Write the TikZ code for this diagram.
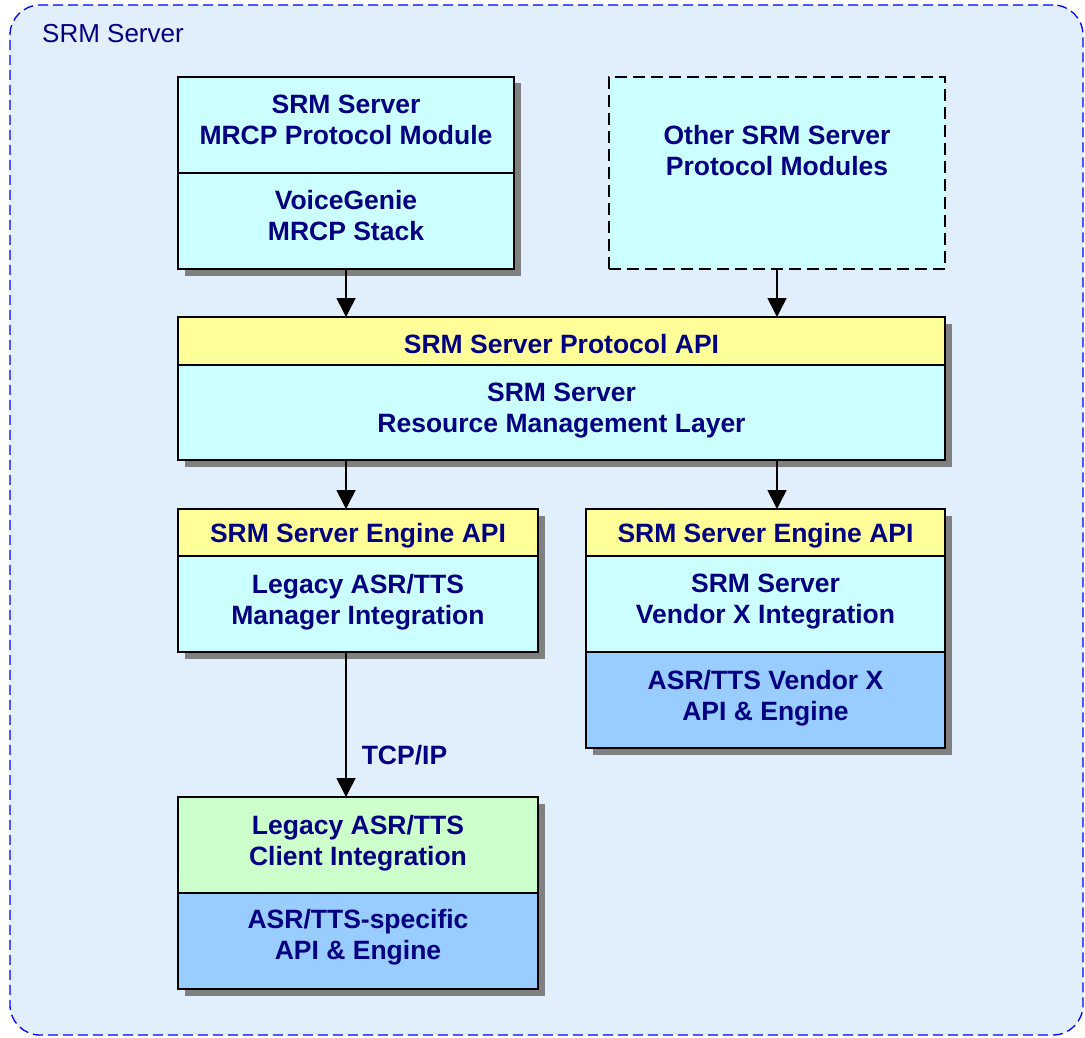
\documentclass[tikz,border=0pt]{standalone}
\usepackage{fontspec}
\setmainfont{Liberation Sans}
\usetikzlibrary{arrows.meta,shadows}
\definecolor{bgblue}{RGB}{225,238,252}
\definecolor{navy}{RGB}{0,0,128}
\definecolor{cyanfill}{RGB}{204,255,255}
\definecolor{yellowfill}{RGB}{255,255,153}
\definecolor{bluefill}{RGB}{153,204,255}
\definecolor{greenfill}{RGB}{204,255,204}
\definecolor{shadowgray}{RGB}{128,128,128}
\begin{document}
\begin{tikzpicture}[x=1pt,y=-1pt,
  sec/.style={draw=black, line width=1.6pt, anchor=north west, inner sep=0pt, outer sep=0pt},
  shad/.style={general shadow={fill=shadowgray, shadow xshift=6.5pt, shadow yshift=-6.5pt}},
  txt/.style={text=navy, font=\bfseries\fontsize{26.5}{31}\selectfont, align=center, inner sep=0pt},
  one/.style={yshift=-3.5pt},
  two/.style={yshift=5pt},
  twog/.style={yshift=2pt},
  arr/.style={line width=1.6pt, -{Triangle[length=19pt,width=19pt]}}
]
\useasboundingbox (0,0) rectangle (1085,1038);
\fill[white] (0,0) rectangle (1085,1038);
% outer container
\node[draw=blue, line width=1.3pt, dash pattern=on 10pt off 5pt, fill=bgblue,
      rounded corners=30pt, anchor=north west, inner sep=0pt, outer sep=0pt,
      minimum width=1073pt, minimum height=1030pt] (outer) at (10,5) {};
\node[anchor=base west, text=navy, font=\fontsize{26}{31}\selectfont, inner sep=0pt] (title) at (42,43) {SRM Server};

% MRCP module
\node[sec, shad, fill=cyanfill, minimum width=336pt, minimum height=96pt] (mrcpA) at (178,77) {};
\node[sec, shad, fill=cyanfill, minimum width=336pt, minimum height=96pt] (mrcpB) at (178,173) {};
\node[txt, two] (tA) at (mrcpA.center) {SRM Server\\MRCP Protocol Module};
\node[txt, two] (tB) at (mrcpB.center) {VoiceGenie\\MRCP Stack};

% Other modules
\node[sec, fill=cyanfill, dash pattern=on 12pt off 6pt, minimum width=336pt, minimum height=192pt] (other) at (609,77) {};
\node[txt, yshift=22.5pt] (tOther) at (other.center) {Other SRM Server\\Protocol Modules};

% Protocol API + resource management
\node[sec, shad, fill=yellowfill, minimum width=767pt, minimum height=48pt] (api) at (178,317) {};
\node[sec, shad, fill=cyanfill, minimum width=767pt, minimum height=95pt] (rml) at (178,365) {};
\node[txt, one] (tApi) at (api.center) {SRM Server Protocol API};
\node[txt, twog] (tRml) at (rml.center) {SRM Server\\Resource Management Layer};

% Left engine API
\node[sec, shad, fill=yellowfill, minimum width=360pt, minimum height=47pt] (lea) at (178,509) {};
\node[sec, shad, fill=cyanfill, minimum width=360pt, minimum height=96pt] (lmi) at (178,556) {};
\node[txt, one] (tLea) at (lea.center) {SRM Server Engine API};
\node[txt, twog] (tLmi) at (lmi.center) {Legacy ASR/TTS\\Manager Integration};

% Right engine API
\node[sec, shad, fill=yellowfill, minimum width=359pt, minimum height=47pt] (rea) at (586,509) {};
\node[sec, shad, fill=cyanfill, minimum width=359pt, minimum height=96pt] (rvi) at (586,556) {};
\node[sec, shad, fill=bluefill, minimum width=359pt, minimum height=96pt] (rae) at (586,652) {};
\node[txt, one] (tRea) at (rea.center) {SRM Server Engine API};
\node[txt, twog] (tRvi) at (rvi.center) {SRM Server\\Vendor X Integration};
\node[txt, yshift=1.5pt] (tRae) at (rae.center) {ASR/TTS Vendor X\\API \& Engine};

% Legacy client
\node[sec, shad, fill=greenfill, minimum width=360pt, minimum height=96pt] (lci) at (178,797) {};
\node[sec, shad, fill=bluefill, minimum width=360pt, minimum height=96pt] (lae) at (178,893) {};
\node[txt, twog] (tLci) at (lci.center) {Legacy ASR/TTS\\Client Integration};
\node[txt, yshift=3.5pt] (tLae) at (lae.center) {ASR/TTS-specific\\API \& Engine};

% connectors
\draw[arr] (mrcpB.south) -- (api.north -| mrcpB.south);
\draw[arr] (other.south) -- (api.north -| other.south);
\draw[arr] (rml.south -| mrcpB.south) -- (lea.north -| mrcpB.south);
\draw[arr] (rml.south -| other.south) -- (rea.north -| other.south);
\draw[arr] (lmi.south -| mrcpB.south) -- node[pos=0.779, anchor=base west, xshift=15pt, txt] (tcp) {TCP/IP} (lci.north -| mrcpB.south);
\end{tikzpicture}
\end{document}
